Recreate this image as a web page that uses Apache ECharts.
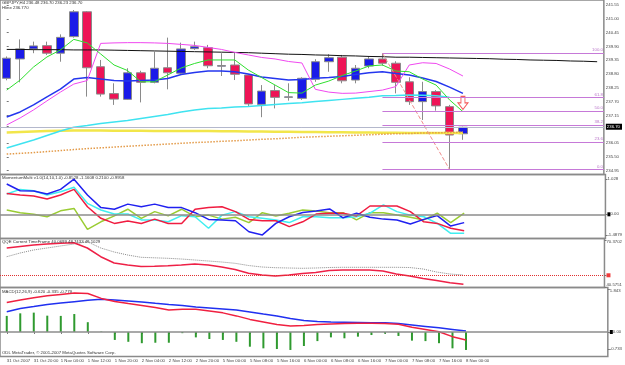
<!DOCTYPE html>
<html>
<head>
<meta charset="utf-8">
<script src="https://cdn.jsdelivr.net/npm/echarts@6/dist/echarts.min.js"></script>
<style>
html, body { margin: 0; padding: 0; background: #fff; }
#chart { width: 625px; height: 365px; }
</style>
</head>
<body>
<div id="chart"></div>
<script>
// GBPJPY H4, 31 Oct 2007 12:00 .. 8 Nov 2007 00:00 (35 bars, chart has room for 45)
const slotCount = 45;
const tickLabels = ["31 Oct 2007", "31 Oct 20:00", "1 Nov 04:00", "1 Nov 12:00", "1 Nov 20:00",
  "2 Nov 04:00", "2 Nov 12:00", "2 Nov 20:00", "5 Nov 00:00", "5 Nov 08:00", "5 Nov 16:00",
  "6 Nov 00:00", "6 Nov 08:00", "6 Nov 16:00", "7 Nov 00:00", "7 Nov 08:00", "7 Nov 16:00", "8 Nov 00:00"];

// [open, close, low, high]
const ohlc = [
  [238.63, 239.43, 238.55, 239.50], [239.40, 239.80, 238.47, 240.18], [239.80, 239.92, 239.63, 240.09],
  [239.93, 239.63, 239.56, 240.09], [239.63, 240.26, 239.29, 240.38], [240.29, 241.28, 240.25, 241.35],
  [241.28, 239.05, 237.90, 241.31], [239.09, 238.00, 237.90, 239.36], [238.02, 237.80, 237.57, 238.43],
  [237.79, 238.85, 237.77, 239.03], [238.85, 238.47, 237.67, 238.93], [238.47, 239.03, 238.43, 239.69],
  [239.05, 238.85, 238.19, 240.25], [238.83, 239.80, 238.80, 240.05], [239.81, 239.89, 239.76, 240.09],
  [239.85, 239.13, 239.03, 239.96], [239.11, 239.14, 238.72, 239.63], [239.16, 238.79, 238.56, 239.65],
  [238.76, 237.61, 237.50, 238.78], [237.59, 238.12, 237.08, 238.36], [238.14, 237.87, 237.43, 238.36],
  [237.87, 237.89, 237.74, 238.43], [237.83, 238.63, 237.77, 238.67], [238.59, 239.29, 238.49, 239.39],
  [239.29, 239.45, 238.89, 239.59], [239.47, 238.53, 238.43, 239.56], [238.56, 239.03, 238.43, 239.16],
  [239.12, 239.40, 239.03, 239.49], [239.40, 239.23, 239.13, 239.63], [239.23, 238.47, 238.03, 239.31],
  [238.49, 237.70, 237.57, 238.67], [237.70, 238.10, 236.97, 238.49], [238.10, 237.53, 237.34, 238.16],
  [237.50, 236.37, 235.00, 237.57], [236.42, 236.68, 236.18, 236.70]
];

const maBlack = [239.78, 239.78, 239.77, 239.77, 239.77, 239.76, 239.76, 239.76, 239.75, 239.74,
  239.73, 239.72, 239.71, 239.70, 239.69, 239.68, 239.67, 239.66, 239.65, 239.63,
  239.61, 239.59, 239.58, 239.56, 239.55, 239.53, 239.52, 239.50, 239.49, 239.47,
  239.47, 239.46, 239.45, 239.44, 239.43, 239.42, 239.41, 239.39, 239.38, 239.36,
  239.35, 239.34, 239.32, 239.31, 239.29];
const maMagenta = [236.77, 237.05, 237.37, 237.73, 238.08, 238.40, 238.54, 240.02, 240.04, 240.05,
  240.05, 240.04, 240.02, 239.98, 239.94, 239.86, 239.78, 239.66, 239.56, 239.46,
  239.40, 239.30, 239.24, 238.19, 238.08, 238.03, 238.04, 238.10, 238.16, 238.30,
  239.16, 239.25, 239.22, 239.00, 238.72];
const maGreen = [238.16, 238.56, 239.08, 239.48, 239.76, 240.18, 240.04, 239.60, 239.16, 238.94,
  238.49, 238.49, 238.76, 239.04, 239.22, 239.36, 239.36, 239.36, 238.96, 238.66,
  238.36, 238.06, 238.04, 238.36, 238.52, 238.74, 238.92, 239.12, 239.16, 238.92,
  238.89, 238.60, 238.36, 237.77, 237.30];
const maBlue = [237.09, 237.29, 237.57, 237.89, 238.20, 238.60, 238.66, 238.60, 238.54, 238.52,
  238.54, 238.56, 238.62, 238.78, 238.86, 238.92, 238.92, 238.89, 238.80, 238.68,
  238.62, 238.56, 238.58, 238.63, 238.66, 238.70, 238.78, 238.85, 238.89, 238.82,
  238.76, 238.64, 238.50, 238.28, 238.03];
const maCyan = [235.85, 236.01, 236.17, 236.35, 236.53, 236.68, 236.75, 236.83, 236.89, 236.95,
  237.03, 237.11, 237.19, 237.29, 237.37, 237.43, 237.45, 237.49, 237.51, 237.55,
  237.59, 237.63, 237.66, 237.71, 237.75, 237.79, 237.83, 237.87, 237.93, 237.94,
  237.96, 237.95, 237.93, 237.87];
const maYellow = [236.47, 236.49, 236.51, 236.53, 236.54, 236.55, 236.55, 236.55, 236.54, 236.54,
  236.54, 236.53, 236.53, 236.53, 236.53, 236.53, 236.52, 236.52, 236.51, 236.51,
  236.50, 236.50, 236.49, 236.49, 236.48, 236.48, 236.47, 236.47, 236.46, 236.46,
  236.45, 236.45, 236.45, 236.45, 236.45];
const maOrange = [235.61, 235.64, 235.67, 235.71, 235.75, 235.79, 235.83, 235.86, 235.89, 235.92,
  235.95, 235.98, 236.01, 236.04, 236.07, 236.09, 236.12, 236.14, 236.17, 236.20,
  236.22, 236.25, 236.28, 236.30, 236.32, 236.34, 236.36, 236.38, 236.40, 236.42,
  236.43, 236.45, 236.46, 236.47, 236.48];
const bidPrice = 236.67;
const lastPrice = 236.70;
const priceTicks = [234.95, 235.50, 236.05, 236.70, 237.15, 237.70, 238.25, 238.80, 239.35, 239.90, 240.45, 241.00, 241.55];

// fibonacci from the bar 28 high to the bar 33 low
const fibFrom = 28;
const fibNames = ["100.0", "61.8", "50.0", "38.2", "23.6", "0.0"];
const fibPrices = [239.63, 237.86, 237.32, 236.77, 236.09, 235.00];
const fibSwing = [[28, 239.63], [33, 235.00]];
const downArrow = [[34, 237.65]];

const momBlue = [1.13, 0.88, 0.87, 0.76, 0.93, 1.31, 0.72, 0.25, 0.19, 0.38, 0.28, 0.38, 0.25, 0.25, 0.06,
  -0.19, -0.21, -0.24, -0.65, -0.77, -0.34, -0.09, 0.07, 0.12, 0.20, -0.13, 0.04, -0.11, -0.18, -0.21,
  -0.36, -0.19, -0.05, -0.44, -0.31];
const momRed = [0.78, 0.72, 0.68, 0.57, 0.72, 0.93, 0.28, -0.15, -0.34, -0.25, -0.34, -0.18, -0.34, -0.34, 0.19,
  0.25, 0.28, 0.10, -0.19, -0.24, -0.24, -0.46, -0.28, 0.01, 0.04, 0.04, -0.06, 0.31, 0.31, 0.31,
  0.10, -0.28, -0.34, -0.52, -0.61];
const momCyan = [0.76, 0.93, 0.88, 0.72, 0.84, 1.01, 0.41, 0.16, 0.01, 0.01, -0.21, -0.21, -0.28, -0.05, -0.09,
  -0.52, -0.03, 0.10, -0.09, -0.15, -0.21, -0.31, -0.09, -0.09, -0.13, -0.13, -0.09, 0.04, 0.35, 0.10,
  -0.03, -0.09, -0.34, -0.71, -0.71];
const momGreen = [0.16, 0.06, 0.00, -0.09, 0.13, 0.22, -0.56, -0.28, -0.06, 0.19, -0.15, 0.10, -0.06, 0.19, -0.09,
  -0.03, -0.18, -0.11, -0.31, 0.06, -0.06, 0.04, 0.16, 0.12, 0.06, 0.06, -0.21, 0.06, 0.06, -0.03,
  -0.11, -0.21, 0.04, -0.31, 0.04];
const momLabelVals = [-0.77, 0, 1.32];
const momLabelText = ["-1.4879", "0.00", "1.028"];

const qqeRsi = [65.30, 66.25, 67.20, 67.83, 68.28, 68.66, 65.30, 59.78, 55.79, 54.52, 53.57, 53.70, 54.08, 54.52, 55.16,
  54.52, 53.25, 51.67, 49.26, 48.18, 47.55, 48.18, 49.13, 49.77, 51.03, 51.35, 51.35, 51.35, 50.72, 48.81,
  47.55, 45.96, 44.69, 43.30, 42.28];
const qqeTrail = [59.78, 62.13, 64.03, 65.30, 66.57, 67.83, 69.29, 65.30, 62.76, 60.86, 59.40, 59.08, 58.77, 58.32, 57.69,
  57.06, 56.42, 55.60, 54.20, 53.25, 52.81, 52.62, 52.43, 52.62, 52.93, 53.06, 53.06, 53.06, 53.06, 53.06,
  52.93, 51.98, 50.08, 48.81, 48.18];
const qqeLevel = 48.0;

const macdHist = [0.69, 0.80, 0.83, 0.70, 0.69, 0.77, 0.42, 0.02, -0.34, -0.42, -0.48, -0.46, -0.46, -0.05, -0.23,
  -0.30, -0.34, -0.42, -0.63, -0.70, -0.73, -0.77, -0.60, -0.39, -0.23, -0.27, -0.20, -0.13, -0.07, -0.17,
  -0.37, -0.39, -0.48, -0.70, -0.77];
const macdRed = [1.26, 1.37, 1.47, 1.55, 1.61, 1.67, 1.65, 1.44, 1.31, 1.22, 1.14, 1.05, 0.94, 0.97, 0.97,
  0.90, 0.82, 0.69, 0.54, 0.43, 0.32, 0.26, 0.28, 0.32, 0.34, 0.36, 0.37, 0.37, 0.36, 0.33,
  0.20, 0.11, 0.01, -0.20, -0.34];
const macdBlue = [0.87, 1.01, 1.09, 1.18, 1.24, 1.30, 1.36, 1.40, 1.37, 1.33, 1.29, 1.23, 1.18, 1.14, 1.07,
  1.03, 0.99, 0.94, 0.86, 0.77, 0.69, 0.58, 0.49, 0.45, 0.43, 0.42, 0.41, 0.40, 0.40, 0.36,
  0.30, 0.24, 0.18, 0.11, 0.04];

const FONT = "'Liberation Sans Narrow', 'Liberation Sans', sans-serif";
const FS = 4.3;

const categories = [];
for (let i = 0; i < slotCount; i++) {
  categories.push(i % 2 === 0 && i / 2 < tickLabels.length ? tickLabels[i / 2] : "");
}

const chart = echarts.init(document.getElementById("chart"), null, { renderer: "canvas" });

const gridBase = { left: -4.78, width: 613.78, show: true, borderColor: "#8a8a8a", borderWidth: 1.5 };
const grids = [
  Object.assign({ top: 0, height: 174.5 }, gridBase),
  Object.assign({ top: 174.5, height: 64 }, gridBase),
  Object.assign({ top: 238.5, height: 49 }, gridBase),
  Object.assign({ top: 287.5, height: 69 }, gridBase)
];

function catAxis(gi, showLabels) {
  return {
    type: "category", gridIndex: gi, data: categories, boundaryGap: true,
    axisLine: { show: false },
    axisTick: showLabels
      ? { show: true, alignWithLabel: true, length: 2, interval: (idx, val) => val !== "", lineStyle: { color: "#777" } }
      : { show: false },
    axisLabel: showLabels
      ? { show: true, interval: 0, align: "left", margin: 2, fontSize: FS, color: "#444", fontFamily: FONT }
      : { show: false },
    splitLine: { show: false }
  };
}

function valAxis(gi, min, max, labelCfg) {
  return {
    type: "value", gridIndex: gi, position: "right", min: min, max: max, scale: true,
    axisLine: { show: false },
    splitLine: { show: false },
    axisTick: { show: true, length: 2, customValues: labelCfg.customValues, lineStyle: { color: "#777" } },
    axisLabel: Object.assign({ fontSize: FS, color: "#444", margin: 2, fontFamily: FONT }, labelCfg)
  };
}

const markerRich = {
  blk: { backgroundColor: "#000", width: 3, height: 4 },
  red: { backgroundColor: "#f03c3c", width: 4, height: 4 },
  cur: { backgroundColor: "#000", color: "#fff", padding: [1, 2, 1, 1], fontSize: FS, fontFamily: FONT }
};

const lineStyleOf = (color, width, type) => ({ color: color, width: width, type: type || "solid" });
function lineSeries(name, data, xi, yi, color, width, type, extra) {
  return Object.assign({
    name: name, type: "line", xAxisIndex: xi, yAxisIndex: yi, data: data,
    symbol: "none", showSymbol: false, silent: true,
    lineStyle: lineStyleOf(color, width, type)
  }, extra || {});
}

const option = {
  animation: false,
  backgroundColor: "#fff",
  textStyle: { fontFamily: FONT },
  title: [
    { text: "GBPJPY,H4 236.48 236.70 236.23 236.70", left: 2, top: 1 },
    { text: "Hline 236.770", left: 2, top: 6 },
    { text: "MomentumMulti v1.0(14,10,1.0) -0.8528 -1.1608 0.2100 -0.9958", left: 2, top: 176 },
    { text: "QQE Current TimeFrame 40.0699 48.7433 49.1029", left: 2, top: 240 },
    { text: "MACD(12,26,9) -0.620 -0.335 -0.779", left: 2, top: 289.5 },
    { text: "ODL MetaTrader, \u00a9 2001-2007 MetaQuotes Software Corp.", left: 2, top: 351 }
  ].map((t) => Object.assign(t, { padding: 0, textStyle: { fontSize: FS, fontWeight: "normal", color: "#333", fontFamily: FONT } })),
  grid: grids,
  xAxis: [
    catAxis(0, false), catAxis(1, false), catAxis(2, false), catAxis(3, true),
    { type: "value", gridIndex: 0, min: -0.5, max: slotCount - 0.5, show: false }
  ],
  yAxis: [
    valAxis(0, 234.797, 241.749, {
      customValues: priceTicks,
      formatter: (v) => (v === lastPrice ? "{cur|" + v.toFixed(2) + "}" : v.toFixed(2)),
      rich: markerRich
    }),
    valAxis(1, -0.903, 1.485, {
      customValues: momLabelVals,
      formatter: (v) => {
        const k = momLabelVals.indexOf(v);
        return v === 0 ? "{blk|}" + momLabelText[k] : momLabelText[k];
      },
      rich: markerRich
    }),
    valAxis(2, 40.26, 71.32, {
      customValues: [40.5751, qqeLevel, 70.3702],
      verticalAlignMinLabel: "bottom", verticalAlignMaxLabel: "top",
      formatter: (v) => (v === qqeLevel ? "{red|}" : v.toFixed(4)),
      rich: markerRich
    }),
    valAxis(3, -1.05, 1.907, {
      customValues: [-0.733, 0, 1.843],
      verticalAlignMaxLabel: "top",
      formatter: (v) => (v === 0 ? "{blk|}0.00" : String(v)),
      rich: markerRich
    })
  ],
  series: [
    {
      name: "GBPJPY", type: "candlestick", xAxisIndex: 0, yAxisIndex: 0, data: ohlc,
      barWidth: 9, silent: true,
      itemStyle: { color: "#1a1ae8", color0: "#ee1456", borderColor: "#8a8a8a", borderColor0: "#8a8a8a", borderWidth: 1 },
      markLine: {
        silent: true, symbol: ["none", "none"], label: { show: false },
        lineStyle: { color: "#b4b8cc", width: 1, type: "solid" },
        data: [{ yAxis: bidPrice }]
      }
    },
    lineSeries("MA black", maBlack, 0, 0, "#111", 1),
    lineSeries("MA yellow", maYellow, 0, 0, "#f2e64a", 2.5),
    lineSeries("MA orange", maOrange, 0, 0, "#e39a48", 1.5, "dotted"),
    lineSeries("MA cyan", maCyan, 0, 0, "#3fe3f0", 1.5),
    lineSeries("MA blue", maBlue, 0, 0, "#2436ee", 1.5),
    lineSeries("MA magenta", maMagenta, 0, 0, "#f048f0", 1),
    lineSeries("MA green", maGreen, 0, 0, "#2ee02e", 1),
    lineSeries("Fibo swing", fibSwing, 4, 0, "#f08c8c", 1, "dashed", {
      markLine: {
        silent: true, symbol: ["none", "none"],
        lineStyle: { color: "#c679d8", width: 1, type: "solid" },
        label: { show: true, position: "insideEndTop", distance: 1, formatter: "{b}", fontSize: FS, color: "#b873c8", fontFamily: FONT },
        data: fibPrices.map((p, k) => [{ coord: [fibFrom, p], name: fibNames[k] }, { coord: [slotCount - 0.5, p] }])
      }
    }),
    {
      name: "Signal", type: "scatter", xAxisIndex: 0, yAxisIndex: 0, data: downArrow, silent: true,
      symbol: "path://M3,0 L7,0 L7,6 L10,6 L5,12 L0,6 L3,6 Z", symbolSize: [10, 13],
      itemStyle: { color: "rgba(255,255,255,0.6)", borderColor: "#f03030", borderWidth: 1 }
    },

    lineSeries("Mom green", momGreen, 1, 1, "#9acc33", 1.5, "solid", {
      markLine: {
        silent: true, symbol: ["none", "none"], label: { show: false },
        lineStyle: { color: "#8c8c8c", width: 1.5, type: "solid" }, data: [{ yAxis: 0 }]
      }
    }),
    lineSeries("Mom cyan", momCyan, 1, 1, "#40eef0", 1.5),
    lineSeries("Mom red", momRed, 1, 1, "#f01c40", 1.5),
    lineSeries("Mom blue", momBlue, 1, 1, "#2020f0", 1.5),

    lineSeries("QQE trail", qqeTrail, 2, 2, "#8a8a8a", 1, "dotted", {
      markLine: {
        silent: true, symbol: ["none", "none"], label: { show: false },
        lineStyle: { color: "#e03030", width: 1, type: "dotted" }, data: [{ yAxis: qqeLevel }]
      }
    }),
    lineSeries("QQE rsi", qqeRsi, 2, 2, "#ee2046", 1.5),

    {
      name: "MACD hist", type: "bar", xAxisIndex: 3, yAxisIndex: 3, data: macdHist, silent: true,
      barWidth: 2, itemStyle: { color: "#2f9a2f" },
      markLine: {
        silent: true, symbol: ["none", "none"], label: { show: false },
        lineStyle: { color: "#8c8c8c", width: 1.5, type: "solid" }, data: [{ yAxis: 0 }]
      }
    },
    lineSeries("MACD blue", macdBlue, 3, 3, "#2030f0", 1.5),
    lineSeries("MACD red", macdRed, 3, 3, "#f02040", 1.5)
  ]
};

chart.setOption(option);
</script>
</body>
</html>
